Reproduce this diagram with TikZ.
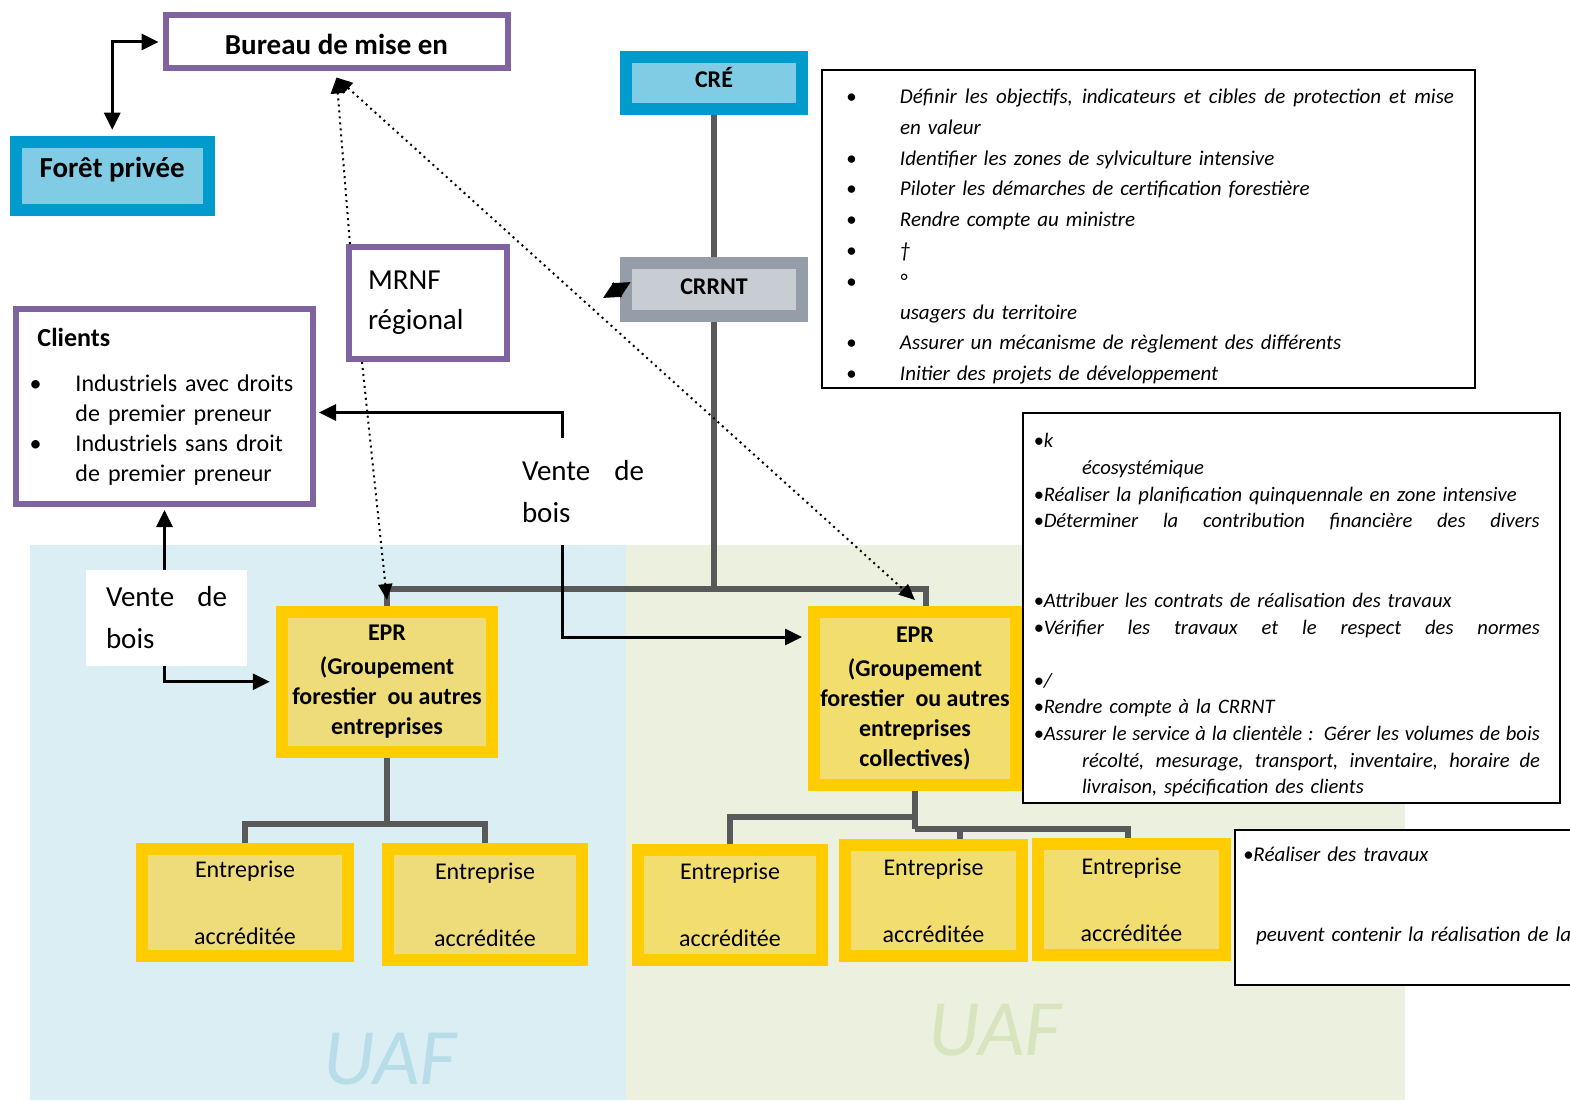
\documentclass[tikz,border=0pt]{standalone}
\usepackage{fontspec}
\setmainfont{Carlito}
\usetikzlibrary{arrows.meta,calc}

\definecolor{purp}{RGB}{128,100,162}
\definecolor{cyanout}{RGB}{0,155,205}
\definecolor{cyanin}{RGB}{128,204,228}
\definecolor{grayout}{RGB}{149,158,168}
\definecolor{grayin}{RGB}{200,205,212}
\definecolor{yelout}{RGB}{255,204,0}
\definecolor{yelinA}{RGB}{237,220,121}
\definecolor{yelinB}{RGB}{242,222,110}
\definecolor{bgblue}{RGB}{218,238,243}
\definecolor{bggreen}{RGB}{235,241,222}
\definecolor{uafblue}{RGB}{183,221,232}
\definecolor{uafgreen}{RGB}{215,228,189}
\definecolor{linegray}{RGB}{89,89,89}

\newcommand{\bul}{\makebox[27pt][l]{\textbullet}}
\newcommand{\cbul}{\makebox[23pt][l]{\textbullet}}
\newcommand{\sbul}{\textbullet}
% ligne justifiee a une largeur donnee
\newcommand{\justline}[2]{\hbox to #1{\spaceskip=0.2em plus 1fil\relax #2}}

\begin{document}
\begin{tikzpicture}[x=0.5pt, y=-0.5pt,
    framed/.style={draw=purp, line width=3pt, fill=white, inner sep=0pt},
    tone/.style 2 args={draw=#1, fill=#2, line width=6pt, inner sep=0pt, align=center},
    ent/.style={tone={yelout}{#1}, font=\fontsize{12}{15}\selectfont},
    epr/.style={tone={yelout}{#1}, font=\bfseries\fontsize{12}{15}\selectfont},
    sale/.style={fill=white, inner ysep=0pt, align=left, font=\fontsize{14.5}{21}\selectfont},
    txtbox/.style={draw=black, line width=1pt, fill=white, inner sep=0pt, align=left, font=\itshape\fontsize{10.5}{13.3}\selectfont},
    uaf/.style={font=\itshape\fontsize{40}{40}\selectfont},
    arr/.style={-{Triangle[length=8.5pt,width=8pt]}, line width=1.5pt},
    biarr/.style={{Triangle[length=8.5pt,width=8pt]}-{Triangle[length=8.5pt,width=8pt]}, line width=1.5pt},
    dotarr/.style={-{Triangle[length=8pt,width=7pt]}, line width=1pt, dotted},
    tree/.style={draw=linegray, line width=3pt}]

    \useasboundingbox (0,0) rectangle (1570,1102);

    % zones UAF
    \fill[bgblue] (30,545) rectangle (626,1100);
    \fill[bggreen] (626,545) rectangle (1405,1100);
    \node[uaf, text=uafblue] (uafA) at (390,1059) {UAF};
    \node[uaf, text=uafgreen] (uafB) at (995,1030) {UAF};

    % organismes
    \node[framed, minimum width=171pt, minimum height=26.5pt, text height=13pt, text depth=0pt, font=\bfseries\fontsize{14.5}{17}\selectfont] (bureau) at (336.5,42) {Bureau de mise en};
    \node[tone={cyanout}{cyanin}, minimum width=96.75pt, minimum height=34.25pt, text height=10pt, text depth=9pt, font=\bfseries\fontsize{14.5}{17}\selectfont] (foret) at (112.25,176) {Forêt privée};
    \node[tone={cyanout}{cyanin}, minimum width=88.25pt, minimum height=25.75pt, text height=9pt, text depth=4pt, font=\bfseries\fontsize{12}{14}\selectfont] (cre) at (714,83) {CRÉ};
    \node[tone={grayout}{grayin}, minimum width=88.25pt, minimum height=26.5pt, text height=8pt, text depth=3pt, font=\bfseries\fontsize{12}{14}\selectfont] (crrnt) at (714,289.5) {CRRNT};
    \node[framed, minimum width=79pt, minimum height=56pt, text width=60pt, align=left, font=\fontsize{14.5}{20}\selectfont] (mrnf) at (428,303) {MRNF\\régional};
    \node[framed, minimum width=148.5pt, minimum height=97.5pt, text width=135pt, align=left, font=\fontsize{12}{15}\selectfont] (clients) at (164.5,406.5)
        {\hspace*{4pt}\textbf{\fontsize{13}{15}\selectfont Clients}\\[7.5pt]
         \cbul Industriels avec droits\\
         \hspace*{23pt}de premier preneur\\
         \cbul Industriels sans droit\\
         \hspace*{23pt}de premier preneur};

    \node[sale, text width=61pt, inner xsep=10pt, minimum height=53.5pt] (venteB) at (583,491.5) {Vente\hfill de\\bois};
    \node[sale, text width=60.5pt, inner xsep=10pt, minimum height=48pt] (venteA) at (166.5,618) {Vente\hfill de\\bois};

    \node[epr=yelinA, minimum width=105.25pt, minimum height=69.75pt] (eprA) at (387,681.75)
        {EPR\\[2pt](Groupement\\forestier\ \ ou autres\\entreprises};
    \node[epr=yelinB, minimum width=101pt, minimum height=86.5pt] (eprB) at (915,698.5)
        {EPR\\[2pt](Groupement\\forestier\ \ ou autres\\entreprises\\collectives)};

    \node[ent=yelinA, minimum width=103pt, minimum height=53.5pt] (entA1) at (245,902.5) {Entreprise\\[18.5pt]accréditée};
    \node[ent=yelinA, minimum width=97pt, minimum height=55.5pt] (entA2) at (485,904.5) {Entreprise\\[18.5pt]accréditée};
    \node[ent=yelinB, minimum width=92pt, minimum height=55pt] (entB1) at (730,905) {Entreprise\\[18.5pt]accréditée};
    \node[ent=yelinB, minimum width=88.5pt, minimum height=55.5pt] (entB2) at (933.5,900.5) {Entreprise\\[18.5pt]accréditée};
    \node[ent=yelinB, minimum width=93.5pt, minimum height=55.5pt] (entB3) at (1131.5,899.5) {Entreprise\\[18.5pt]accréditée};

    % mandats
    \node[txtbox, font=\itshape\fontsize{10.5}{15.4}\selectfont, minimum width=326.5pt, minimum height=159pt, text width=302.5pt] (roleCre) at (1148.5,229)
        {\mbox{}\\[-0.4pt]
         \bul\justline{277pt}{Définir les objectifs, indicateurs et cibles de protection et mise}\\
         \hspace*{27pt}en valeur\\
         \bul Identifier les zones de sylviculture intensive\\
         \bul Piloter les démarches de certification forestière\\
         \bul Rendre compte au ministre\\
         \bul \textdagger\\
         \bul °\\
         \hspace*{27pt}usagers du territoire\\
         \bul Assurer un mécanisme de règlement des différents\\
         \bul Initier des projets de développement};
    \node[txtbox, font=\itshape\fontsize{10.3}{13.3}\selectfont, minimum width=268.5pt, minimum height=195pt, text width=258pt] (roleCrrnt) at (1291.5,608)
        {\mbox{}\\[1.2pt]
         \sbul k\\
         \hspace*{24.25pt}écosystémique\\
         \sbul Réaliser la planification quinquennale en zone intensive\\
         \sbul\justline{248pt}{Déterminer la contribution financière des divers}\\
         \mbox{}\\
         \mbox{}\\
         \sbul Attribuer les contrats de réalisation des travaux\\
         \sbul\justline{248pt}{Vérifier les travaux et le respect des normes}\\
         \mbox{}\\
         \sbul /\\
         \sbul Rendre compte à la CRRNT\\
         \sbul\justline{248pt}{Assurer le service à la clientèle : Gérer les volumes de bois}\\
         \hspace*{24.25pt}\justline{229pt}{récolté, mesurage, transport, inventaire, horaire de}\\
         \hspace*{24.25pt}livraison, spécification des clients};
    \node[txtbox, minimum width=172.5pt, minimum height=77.5pt, text width=164.5pt] (roleEnt) at (1407.5,907.5)
        {\sbul Réaliser des travaux\\
         \mbox{}\\
         \mbox{}\\
         \hspace*{6.5pt}peuvent contenir la réalisation de la\\
         \mbox{}};

    % liens hierarchiques
    \coordinate (bus) at (714,589);
    \draw[tree] (cre) -- (crrnt);
    \draw[tree] (crrnt) -- (bus);
    \draw[tree] (bus) -| (eprA);
    \draw[tree] (bus) -| ([xshift=5.5pt]eprB.north);
    \coordinate (forkA) at (387,824);
    \draw[tree] (eprA) -- (forkA);
    \draw[tree] (forkA) -| (entA1);
    \draw[tree] (forkA) -| (entA2);
    \coordinate (forkB) at (915,829);
    \coordinate (forkBl) at (915,817);
    \draw[tree] (eprB) -- (forkB);
    \draw[tree] (forkBl) -| (entB1);
    \draw[tree] (forkB) -| ([xshift=13pt]entB2.north);
    \draw[tree] (forkB) -| ([xshift=-2pt]entB3.north);

    % fleches
    \draw[biarr] ([yshift=3pt]foret.north) |- ([xshift=-2pt]bureau.west);
    \coordinate (crrntL) at (603,298);
    \draw[biarr] (crrntL) -- ([shift={(5.5pt,3.75pt)}]crrnt.west);
    \draw[dotarr] ([xshift=2pt]mrnf.north west) -- ([yshift=-3pt]bureau.south);
    \draw[dotarr] ([xshift=8pt]mrnf.south west) -- ([yshift=3pt]eprA.north);
    \draw[dotarr, {Triangle[length=8pt,width=7pt]}-{Triangle[length=8pt,width=7pt]}] ([yshift=-3pt]bureau.south) -- ([yshift=3pt]eprB.north);
    \draw[arr] ([xshift=-10.5pt]venteB.north) |- ([shift={(1.5pt,-3pt)}]clients.east);
    \draw[arr] ([xshift=-10.5pt]venteB.south) |- ([shift={(-3pt,30.75pt)}]eprB.west);
    \draw[arr] (venteA.north -| clients.south) -- ([yshift=-1.5pt]clients.south);
    \draw[arr] (venteA.south -| clients.south) |- ([xshift=-3pt]eprA.west);
\end{tikzpicture}
\end{document}
